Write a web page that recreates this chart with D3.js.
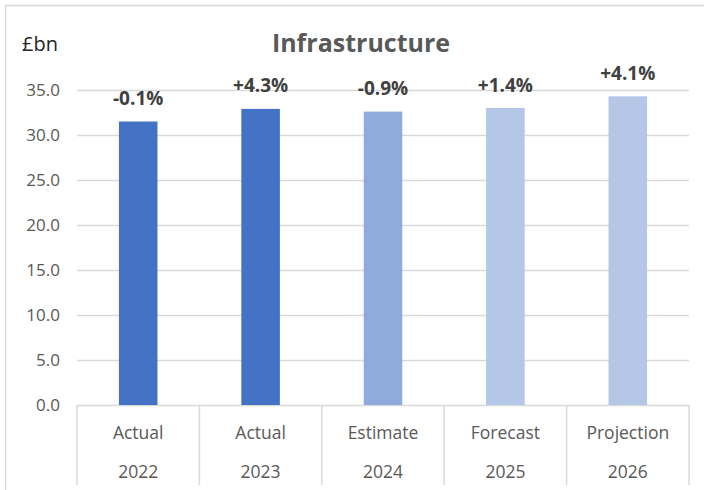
<!DOCTYPE html>
<html>
<head>
<meta charset="utf-8">
<script src="https://cdn.jsdelivr.net/npm/d3@7"></script>
<style>
  html, body { margin: 0; padding: 0; background: #fff; }
  svg { display: block; }
</style>
</head>
<body>
<svg id="chart" width="704" height="490"></svg>
<script>
// Infrastructure spending, £bn
const stages = ["Actual", "Actual", "Estimate", "Forecast", "Projection"];
const years = ["2022", "2023", "2024", "2025", "2026"];
const values = [31.5, 32.9, 32.6, 33.0, 34.3];
const changes = ["-0.1%", "+4.3%", "-0.9%", "+1.4%", "+4.1%"];
const barColors = ["#4472C4", "#4472C4", "#8FAADC", "#B4C7E7", "#B4C7E7"];
const yTicks = [0, 5, 10, 15, 20, 25, 30, 35];

const svg = d3.select("#chart");
const font = "'Open Sans', 'Segoe UI', sans-serif";
const gridColor = "#d9d9d9";

const plot = { left: 77, right: 689, top: 90, bottom: 405 };

// outer chart frame
svg.append("rect")
  .attr("x", 5.5).attr("y", 5.5)
  .attr("width", 720).attr("height", 500)
  .attr("fill", "#fff")
  .attr("stroke", gridColor).attr("stroke-width", 1.5);

const x = d3.scaleBand()
  .domain(d3.range(values.length))
  .range([plot.left, plot.right])
  .paddingInner(0.685)
  .paddingOuter(0.3425);

const y = d3.scaleLinear().domain([0, 35]).range([plot.bottom, plot.top]);

// gridlines and value axis labels
const yAxis = d3.axisLeft(y)
  .tickValues(yTicks)
  .tickSize(-(plot.right - plot.left))
  .tickPadding(17)
  .tickFormat(d3.format(".1f"));

const gy = svg.append("g")
  .attr("transform", `translate(${plot.left},0)`)
  .call(yAxis);
gy.select(".domain").remove();
gy.selectAll(".tick line").attr("stroke", gridColor).attr("stroke-width", 1.5);
gy.selectAll(".tick text")
  .attr("fill", "#595959")
  .attr("font-family", font)
  .attr("font-size", 17);

// category separators below the axis
const bandStep = x.step();
const edges = d3.range(values.length + 1).map(i => plot.left + i * bandStep);
svg.append("g").selectAll("line")
  .data(edges)
  .join("line")
  .attr("x1", d => d).attr("x2", d => d)
  .attr("y1", plot.bottom).attr("y2", 485)
  .attr("stroke", gridColor).attr("stroke-width", 1.5);

// bars
svg.append("g").selectAll("rect")
  .data(values)
  .join("rect")
  .attr("x", (d, i) => x(i))
  .attr("y", d => y(d))
  .attr("width", x.bandwidth())
  .attr("height", d => y(0) - y(d))
  .attr("fill", (d, i) => barColors[i]);

// percentage change labels
svg.append("g").selectAll("text")
  .data(values)
  .join("text")
  .attr("x", (d, i) => x(i) + x.bandwidth() / 2)
  .attr("y", d => y(d) - 16.5)
  .attr("text-anchor", "middle")
  .attr("font-family", font)
  .attr("font-weight", "bold")
  .attr("font-size", 19)
  .attr("fill", "#404040")
  .text((d, i) => changes[i]);

// two-level category labels
const centers = d3.range(values.length).map(i => x(i) + x.bandwidth() / 2);
svg.append("g").selectAll("text")
  .data(stages)
  .join("text")
  .attr("x", (d, i) => centers[i])
  .attr("y", 439)
  .attr("text-anchor", "middle")
  .attr("font-family", font)
  .attr("font-size", 17.5)
  .attr("fill", "#595959")
  .text(d => d);

svg.append("g").selectAll("text")
  .data(years)
  .join("text")
  .attr("x", (d, i) => centers[i])
  .attr("y", 478)
  .attr("text-anchor", "middle")
  .attr("font-family", font)
  .attr("font-size", 17.5)
  .attr("fill", "#595959")
  .text(d => d);

// title and unit
svg.append("text")
  .attr("x", 361).attr("y", 52)
  .attr("text-anchor", "middle")
  .attr("font-family", font)
  .attr("font-weight", "bold")
  .attr("font-size", 25)
  .attr("fill", "#595959")
  .text("Infrastructure");

svg.append("text")
  .attr("x", 22).attr("y", 51)
  .attr("font-family", font)
  .attr("font-size", 20)
  .attr("fill", "#262626")
  .text("£bn");
</script>
</body>
</html>
